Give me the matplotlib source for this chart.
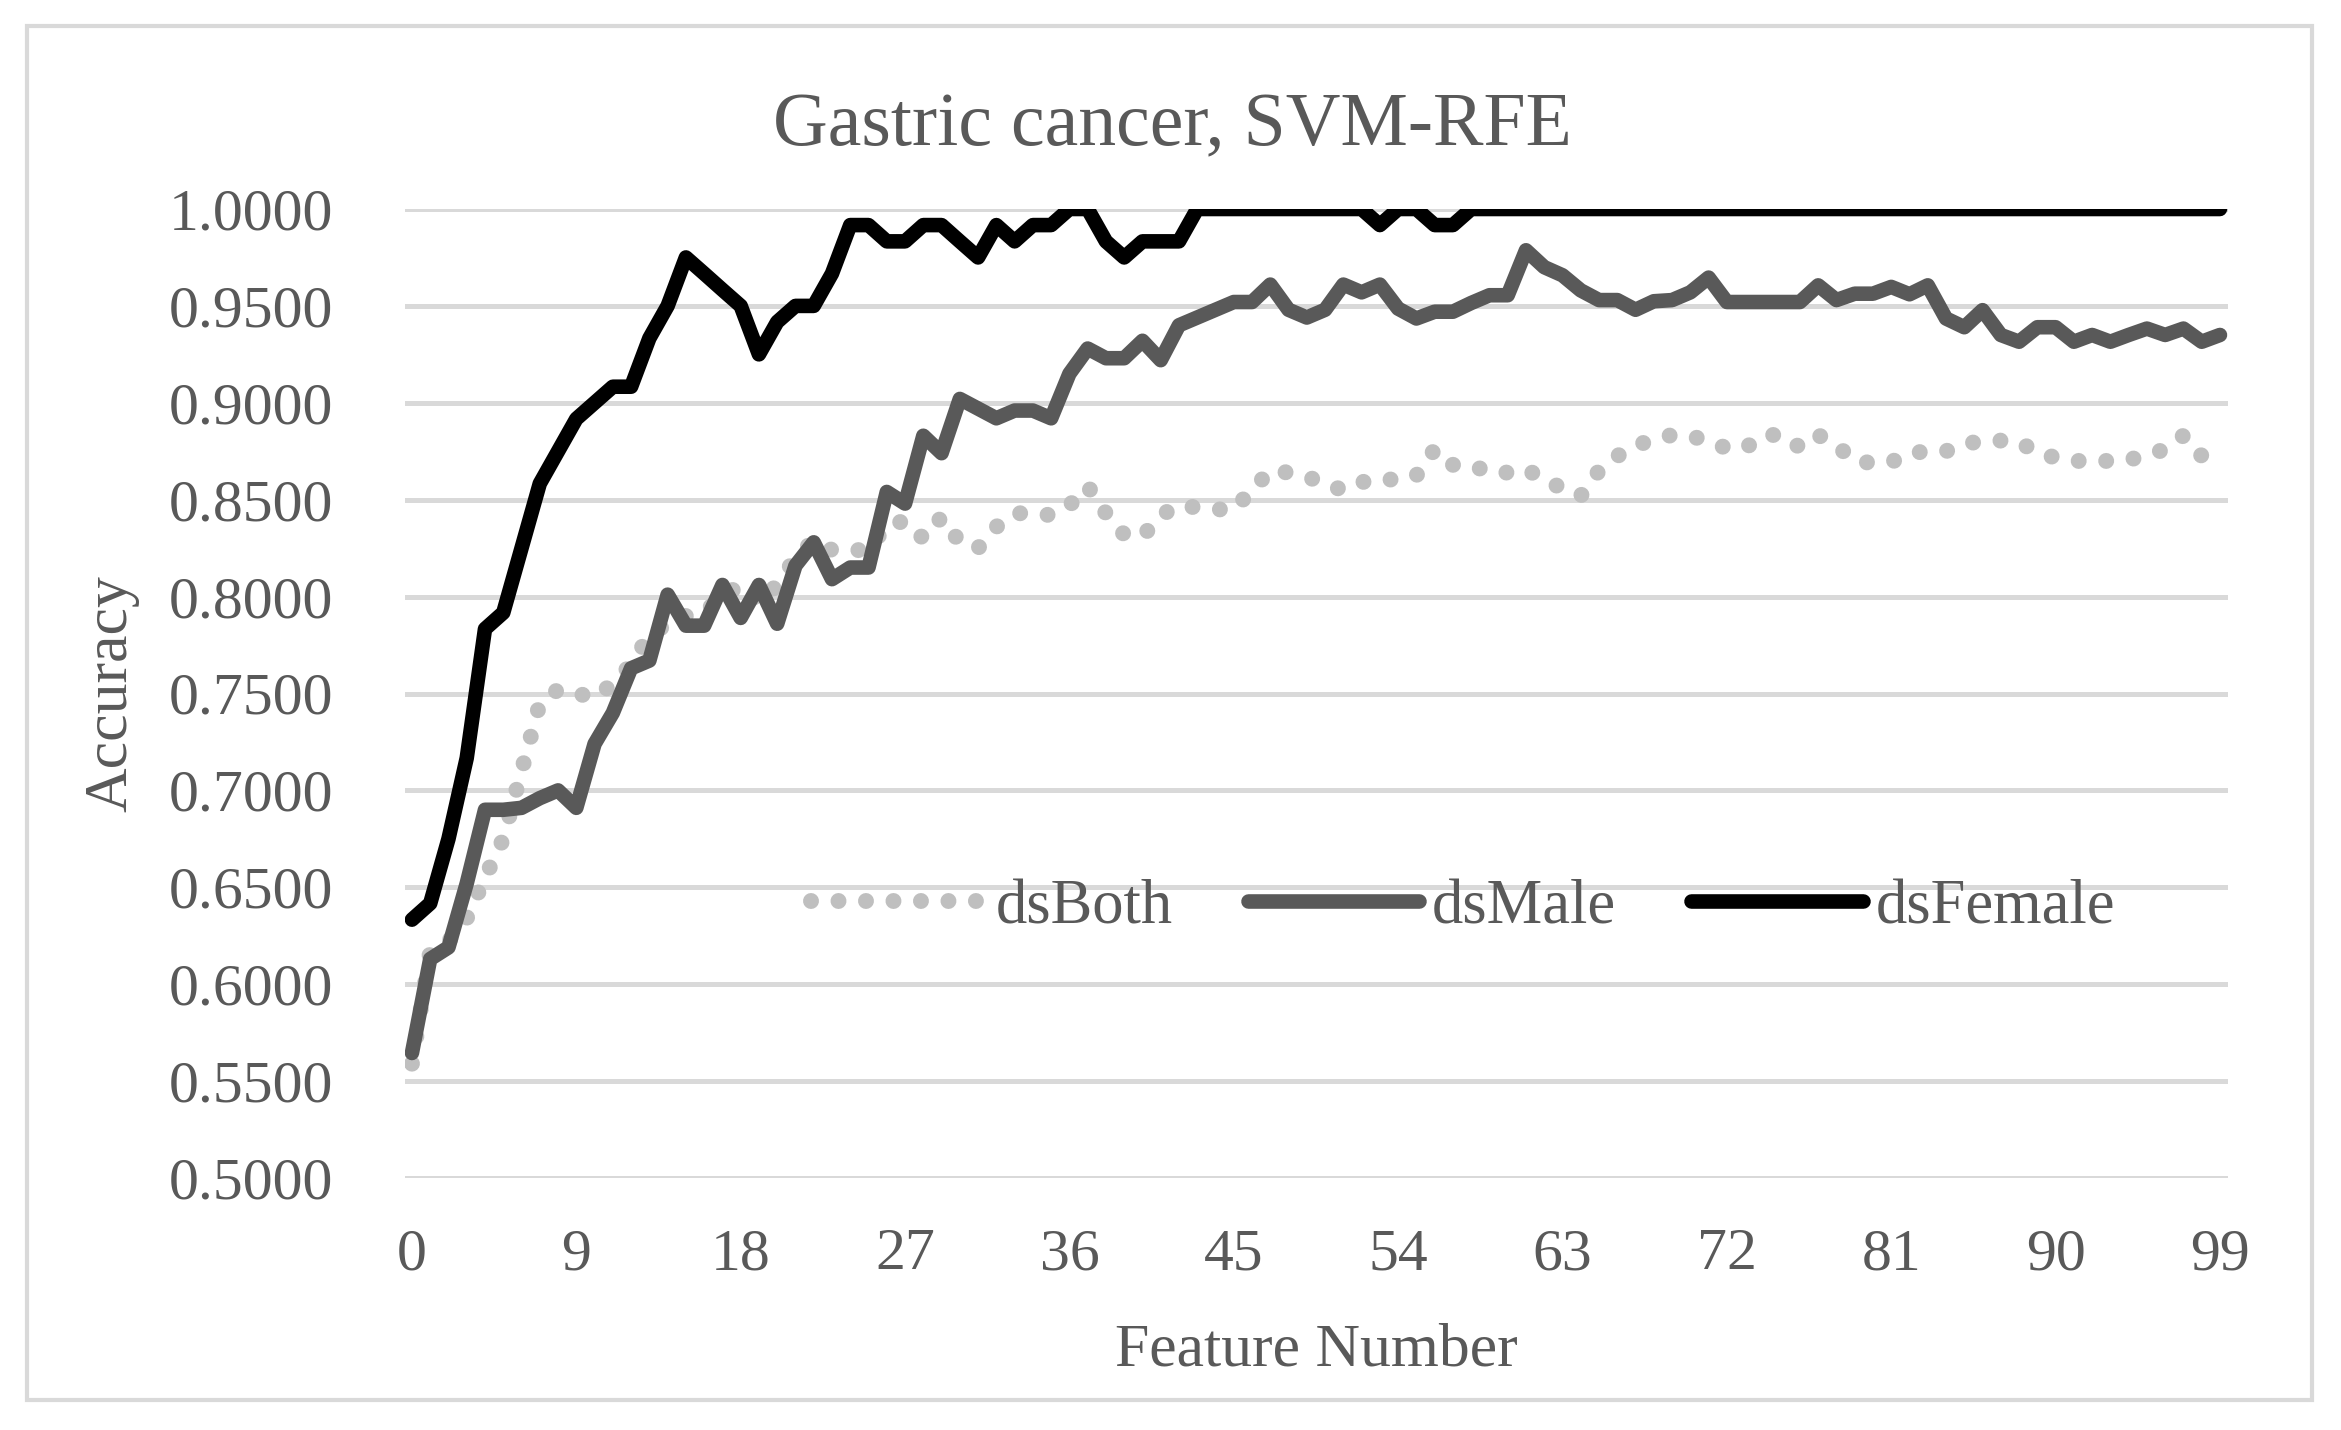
import matplotlib
matplotlib.use("Agg")
import matplotlib.pyplot as plt
from matplotlib.patches import Rectangle

plt.rcParams['font.family'] = ['Liberation Serif', 'DejaVu Serif']

# feature numbers 0..99
features = list(range(100))

ds_both = [
    0.559, 0.617, 0.622, 0.634, 0.655, 0.675, 0.710, 0.745, 0.752, 0.750,
    0.748, 0.755, 0.765, 0.780, 0.786, 0.790, 0.792, 0.800, 0.806, 0.797,
    0.806, 0.820, 0.829, 0.824, 0.824, 0.824, 0.837, 0.839, 0.830, 0.841,
    0.828, 0.825, 0.836, 0.843, 0.843, 0.842, 0.847, 0.857, 0.843, 0.832,
    0.831, 0.842, 0.847, 0.846, 0.845, 0.845, 0.855, 0.865, 0.864, 0.862,
    0.858, 0.855, 0.859, 0.861, 0.860, 0.8625, 0.876, 0.868, 0.868, 0.864,
    0.864, 0.866, 0.860, 0.856, 0.852, 0.865, 0.8725, 0.878, 0.881, 0.8834,
    0.883, 0.880, 0.8766, 0.8766, 0.8834, 0.8834, 0.877, 0.8834, 0.878, 0.870,
    0.8689, 0.8694, 0.874, 0.875, 0.875, 0.879, 0.880, 0.8805, 0.880, 0.874,
    0.8718, 0.870, 0.870, 0.870, 0.8706, 0.873, 0.876, 0.8831, 0.8726, 0.8726,
]

ds_male = [
    0.5645, 0.613, 0.619, 0.652, 0.690, 0.690, 0.691, 0.696, 0.700, 0.691,
    0.724, 0.740, 0.763, 0.767, 0.801, 0.785, 0.785, 0.806, 0.789, 0.806,
    0.786, 0.816, 0.828, 0.809, 0.815, 0.815, 0.854, 0.848, 0.883, 0.874,
    0.902, 0.897, 0.892, 0.896, 0.896, 0.892, 0.915, 0.928, 0.923, 0.923,
    0.932, 0.922, 0.940, 0.944, 0.948, 0.952, 0.952, 0.961, 0.948, 0.944,
    0.948, 0.961, 0.957, 0.961, 0.9486, 0.9435, 0.947, 0.947, 0.9515, 0.9555,
    0.9555, 0.9787, 0.970, 0.9658, 0.958, 0.953, 0.953, 0.948, 0.9524, 0.953,
    0.957, 0.9646, 0.952, 0.952, 0.952, 0.952, 0.952, 0.9606, 0.953, 0.9563,
    0.9563, 0.9598, 0.956, 0.9606, 0.9435, 0.939, 0.9478, 0.935, 0.9315, 0.939,
    0.939, 0.9315, 0.935, 0.9315, 0.935, 0.9383, 0.935, 0.9383, 0.9315, 0.935,
]

ds_female = [
    0.6333, 0.6417, 0.675, 0.7167, 0.7833, 0.7917, 0.825, 0.8583, 0.875, 0.8917,
    0.9, 0.9083, 0.9083, 0.9333, 0.95, 0.975, 0.9667, 0.9583, 0.95, 0.925,
    0.9417, 0.95, 0.95, 0.9667, 0.9917, 0.9917, 0.9833, 0.9833, 0.9917, 0.9917,
    0.9833, 0.975, 0.9917, 0.9833, 0.9917, 0.9917, 1.0, 1.0, 0.9833, 0.975,
    0.9833, 0.9833, 0.9833, 1.0, 1.0, 1.0, 1.0, 1.0, 1.0, 1.0,
    1.0, 1.0, 1.0, 0.9917, 1.0, 1.0, 0.9917, 0.9917, 1.0, 1.0,
    1.0, 1.0, 1.0, 1.0, 1.0, 1.0, 1.0, 1.0, 1.0, 1.0,
    1.0, 1.0, 1.0, 1.0, 1.0, 1.0, 1.0, 1.0, 1.0, 1.0,
    1.0, 1.0, 1.0, 1.0, 1.0, 1.0, 1.0, 1.0, 1.0, 1.0,
    1.0, 1.0, 1.0, 1.0, 1.0, 1.0, 1.0, 1.0, 1.0, 1.0,
]

x_ticks = list(range(0, 100, 9))
y_ticks = [0.50, 0.55, 0.60, 0.65, 0.70, 0.75, 0.80, 0.85, 0.90, 0.95, 1.00]

W, H = 2341, 1430
txt = "#595959"
grid = "#D9D9D9"

fig = plt.figure(figsize=(W / 100, H / 100), dpi=100)
ax = fig.add_axes([405 / W, 1 - 1178 / H, (2228 - 405) / W, (1178 - 209) / H])

ax.plot(features, ds_both, color="#BFBFBF", lw=11.5, linestyle=(0, (0.001, 1.72)),
        dash_capstyle="round", label="dsBoth", zorder=3)
ax.plot(features, ds_male, color="#595959", lw=10.5, solid_capstyle="round",
        label="dsMale", zorder=4)
ax.plot(features, ds_female, color="black", lw=10.5, solid_capstyle="round",
        label="dsFemale", zorder=5)

ax.set_xlim(-0.38, 99.44)
ax.set_ylim(0.5, 1.0)
ax.set_yticks(y_ticks)
ax.set_yticklabels(["%.4f" % v for v in y_ticks])
ax.set_xticks(x_ticks)
ax.set_xticklabels([str(v) for v in x_ticks])
ax.tick_params(axis="both", length=0, labelsize=43, colors=txt)
ax.tick_params(axis="y", pad=52)
ax.tick_params(axis="x", pad=36)
for s in ax.spines.values():
    s.set_visible(False)
ax.grid(axis="y", color=grid, lw=3.6, zorder=1)
ax.set_axisbelow(True)

fig.text(1172 / W, 1 - 145 / H, "Gastric cancer, SVM-RFE", fontsize=54.5,
         color=txt, ha="center", va="baseline")
fig.text(1316 / W, 1 - 1365 / H, "Feature Number", fontsize=44.5,
         color=txt, ha="center", va="baseline")
fig.text(112 / W, 1 - 694 / H, "Accuracy", fontsize=44.5, color=txt,
         ha="center", va="center", rotation=90)

leg = fig.legend(loc="center", bbox_to_anchor=(1463 / W, 1 - 908 / H), ncol=3,
                 frameon=False, fontsize=45, handlelength=2.75,
                 handletextpad=0.2, columnspacing=1.2, borderpad=0)
for t in leg.get_texts():
    t.set_color(txt)

fig.add_artist(Rectangle((27 / W, 1 - 1400 / H), (2312 - 27) / W, (1400 - 26) / H,
                         transform=fig.transFigure, fill=False,
                         edgecolor=grid, lw=3))

fig.savefig("out.png", dpi=100, facecolor="white")
